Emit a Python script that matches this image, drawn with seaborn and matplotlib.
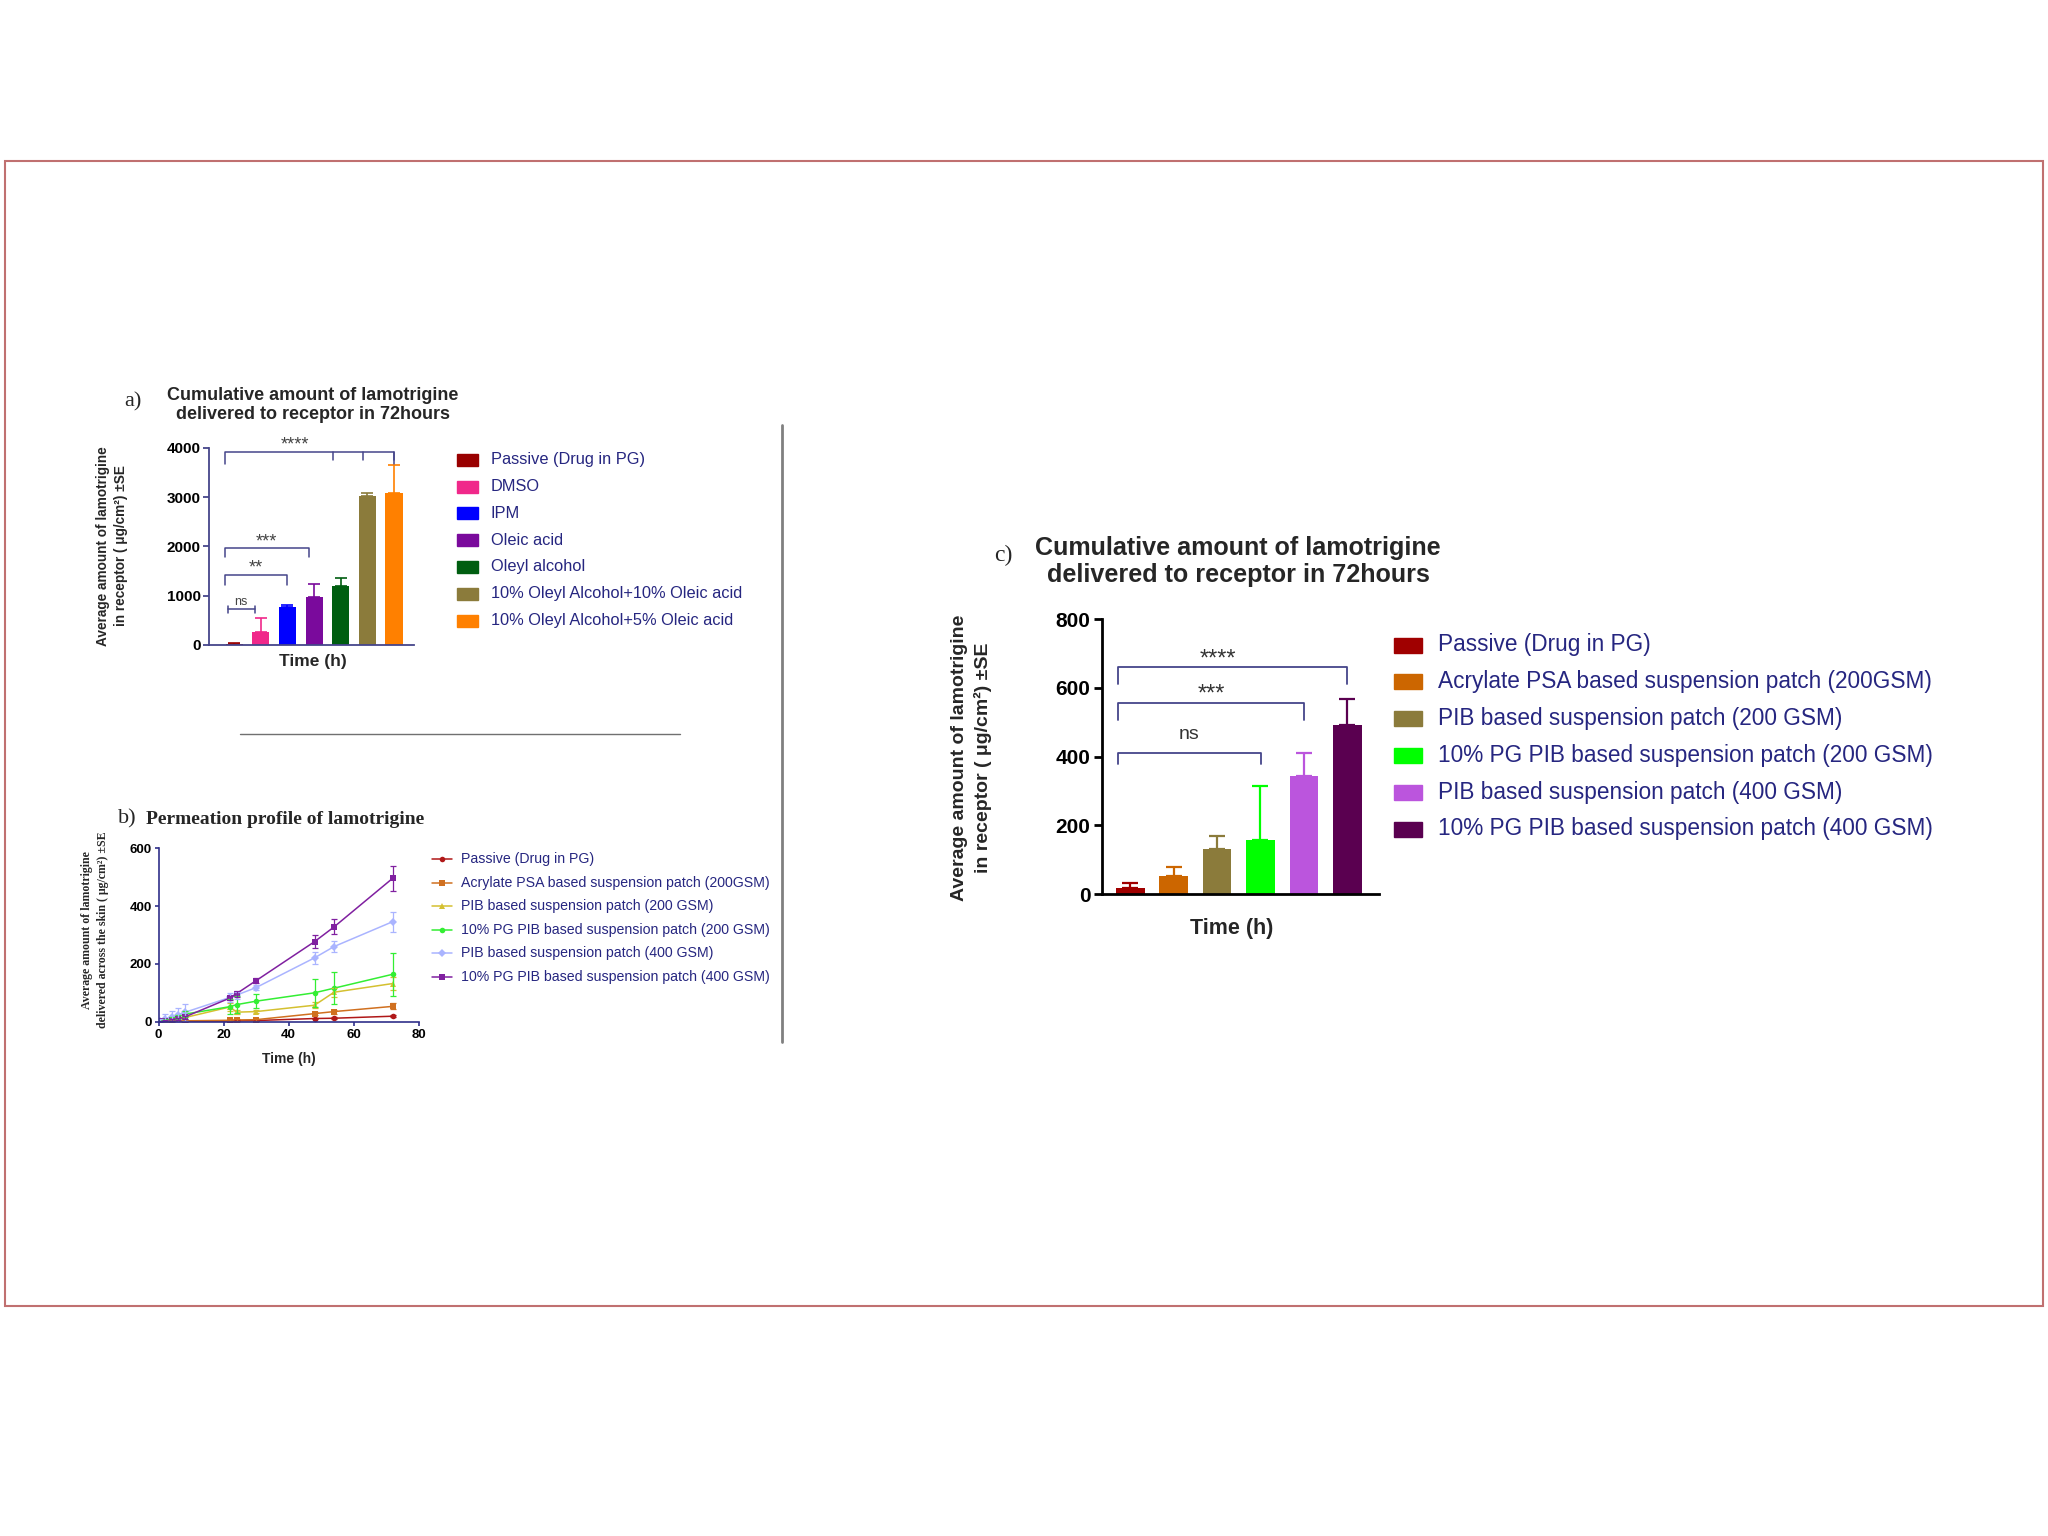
import matplotlib.pyplot as plt
import matplotlib.patches as mpatches
from matplotlib.lines import Line2D
import numpy as np
import pandas as pd
import seaborn as sns

# ---- panel a: cumulative amount, enhancers ----
a_groups = ['Passive (Drug in PG)', 'DMSO', 'IPM', 'Oleic acid', 'Oleyl alcohol',
            '10% Oleyl Alcohol+10% Oleic acid', '10% Oleyl Alcohol+5% Oleic acid']
a_mean = [20, 257, 777, 980, 1196, 3020, 3074]
a_err = [12, 283, 27, 250, 155, 54, 568]
a_colors = ['#990000', '#f0288a', '#0000ff', '#7a0a9c', '#005e10', '#8b7b3b', '#ff8000']
a_sig_text = ['ns', '**', '***', '****']
a_sig_left = [-0.21, -0.34, -0.34, -0.34]
a_sig_right = [0.79, 2.0, 2.8, 6.0]
a_sig_y = [725, 1420, 1960, 3920]
a_sig_drop = [1217 - 1420, 1217 - 1420, 1779 - 1960, 3670 - 3920]
a_sig_textx = [0.25, 0.83, 1.23, 2.3]
a_sig_inner = [3.71, 4.83]

# ---- panel b: permeation profile ----
b_series = ['Passive (Drug in PG)', 'Acrylate PSA based suspension patch (200GSM)',
            'PIB based suspension patch (200 GSM)', '10% PG PIB based suspension patch (200 GSM)',
            'PIB based suspension patch (400 GSM)', '10% PG PIB based suspension patch (400 GSM)']
b_time = [0.5, 2, 4, 6, 8, 22, 24, 30, 48, 54, 72]
b_passive = [0, 0.5, 1, 1, 1.5, 2, 3, 4, 11, 12, 19]
b_acrylate = [0.5, 1, 2, 2, 3, 5, 6, 7, 28, 35, 53]
b_pib200 = [1, 4, 7, 10, 14, 51, 33, 35, 57, 102, 132]
b_pg_pib200 = [2, 6, 10, 16, 26, 52, 59, 71, 100, 116, 164]
b_pib400 = [3, 10, 16, 24, 32, 84, 92, 118, 221, 260, 346]
b_pg_pib400 = [1, 3, 6, 10, 16, 82, 97, 142, 277, 328, 496]
b_err_passive = [0.5, 0.5, 1, 1, 1, 2, 2, 2, 3, 3, 4]
b_err_acrylate = [1, 1, 1, 1, 2, 3, 3, 3, 6, 7, 10]
b_err_pib200 = [2, 3, 4, 4, 5, 15, 8, 6, 10, 15, 22]
b_err_pg_pib200 = [3, 5, 6, 8, 10, 25, 30, 25, 48, 55, 75]
b_err_pib400 = [8, 15, 20, 25, 30, 15, 12, 10, 20, 18, 35]
b_err_pg_pib400 = [1, 2, 3, 4, 5, 8, 10, 8, 22, 26, 44]
b_colors = ['#b01818', '#d07020', '#d4c030', '#33ee33', '#aab4ff', '#8020a0']
b_markers = ['o', 's', '^', 'o', 'D', 's']

# ---- panel c: cumulative amount, patches ----
c_groups = b_series
c_mean = [17, 53, 130, 157, 344, 493]
c_err = [14, 26, 39, 157, 67, 74]
c_colors = ['#a00000', '#cc6600', '#8b7b3b', '#00ff00', '#bb55dd', '#5a0050']
c_sig_text = ['ns', '***', '****']
c_sig_left = [-0.29, -0.29, -0.29]
c_sig_right = [3.01, 4.0, 5.0]
c_sig_y = [410, 555, 660]
c_sig_drop = [-30, -48, -47]
c_sig_textx = [1.36, 1.87, 2.02]
c_sig_texty = [440, 548, 652]

navy = '#262680'
slate = '#45458a'

sns.set_theme(style='white')
plt.rcParams['font.family'] = ['Liberation Sans', 'DejaVu Sans']
serif = ['Liberation Serif', 'DejaVu Serif']

fig = plt.figure(figsize=(20.48, 15.36), dpi=100)


def fx(px):
    return px / 2048


def fy(py):
    return 1 - py / 1536


def style_axis(ax, color, lw, size):
    sns.despine(ax=ax)
    for s in ['left', 'bottom']:
        ax.spines[s].set_color(color)
        ax.spines[s].set_linewidth(lw)
    ax.tick_params(axis='both', colors=color, labelcolor='black', width=lw,
                   length=4, labelsize=size, pad=2)
    ax.grid(False)


def bracket(ax, left, right, y, drop, color, lw):
    ax.plot([left, left, right, right], [y + drop, y, y, y + drop], color=color, lw=lw,
            clip_on=False)


# ---------------- panel a ----------------
ax_a = fig.add_axes([fx(209), fy(645), fx(414 - 209), (645 - 447.7) / 1536])
sns.barplot(x=a_groups, y=a_mean, hue=a_groups, palette=a_colors, saturation=1,
            width=0.64, legend=False, errorbar=None, linewidth=0, ax=ax_a)
for i in range(len(a_groups)):
    ax_a.errorbar(i, a_mean[i], yerr=[[0], [a_err[i]]], fmt='none', ecolor=a_colors[i],
                  elinewidth=1.2, capsize=4, capthick=1.2)
ax_a.set_xlim(-0.94, 6.75)
ax_a.set_ylim(0, 4000)
ax_a.set_xticks([])
ax_a.set_yticks([0, 1000, 2000, 3000, 4000], ['0', '1000', '2000', '3000', '4000'],
                fontweight='bold')
style_axis(ax_a, slate, 1.3, 11)
ax_a.tick_params(axis='x', bottom=False)
ax_a.tick_params(axis='y', left=True)
for i, t in enumerate(a_sig_text):
    if t == 'ns':
        ax_a.plot([a_sig_left[i], a_sig_right[i]], [a_sig_y[i]] * 2, color=slate, lw=1.1)
        for xe in (a_sig_left[i], a_sig_right[i]):
            ax_a.plot([xe, xe], [a_sig_y[i] - 70, a_sig_y[i] + 70], color=slate, lw=1.1)
        ax_a.text(a_sig_textx[i], a_sig_y[i] + 30, t, ha='center', va='bottom',
                  fontsize=9, color='#444444')
    else:
        bracket(ax_a, a_sig_left[i], a_sig_right[i], a_sig_y[i], a_sig_drop[i], slate, 1.1)
        ax_a.text(a_sig_textx[i], a_sig_y[i] - 40, t, ha='center', va='bottom',
                  fontsize=13, color='#444444')
for xe in a_sig_inner:
    ax_a.plot([xe, xe], [a_sig_y[3], 3750], color=slate, lw=1.1, clip_on=False)
ax_a.plot([6.0, 6.0], [a_sig_y[3], 3750], color=slate, lw=1.1, clip_on=False)

fig.text(fx(133), fy(402), 'a)', fontsize=16, family=serif, ha='center', va='center')
fig.text(fx(313), fy(405), 'Cumulative amount of lamotrigine\ndelivered to receptor in 72hours',
         fontsize=13, fontweight='bold', ha='center', va='center', linespacing=1.2)
fig.text(fx(112), fy(546), 'Average amount of lamotrigine\nin receptor ( μg/cm²) ±SE',
         rotation=90, fontsize=9.8, fontweight='bold', ha='center', va='center',
         linespacing=1.4)
fig.text(fx(313), fy(662), 'Time (h)', fontsize=12.5, fontweight='bold', ha='center',
         va='center')
for i, lab in enumerate(a_groups):
    yy = 459.7 + i * 26.8
    fig.add_artist(mpatches.Rectangle((fx(457), fy(yy + 6)), fx(21), 12 / 1536,
                                      color=a_colors[i], transform=fig.transFigure))
    fig.text(fx(491), fy(yy), lab, fontsize=11.8, color=navy, ha='left', va='center')

# ---------------- panel b ----------------
ax_b = fig.add_axes([fx(158.5), fy(1021.7), fx(418.6 - 158.5), (1021.7 - 848.3) / 1536])
b_values = [b_passive, b_acrylate, b_pib200, b_pg_pib200, b_pib400, b_pg_pib400]
b_errors = [b_err_passive, b_err_acrylate, b_err_pib200, b_err_pg_pib200, b_err_pib400,
            b_err_pg_pib400]
b_df = pd.DataFrame({
    'time': np.tile(b_time, len(b_series)),
    'value': np.concatenate(b_values),
    'series': np.repeat(b_series, len(b_time)),
})
sns.lineplot(data=b_df, x='time', y='value', hue='series', style='series',
             hue_order=b_series, style_order=b_series, palette=b_colors,
             markers=b_markers, dashes=False, markersize=4, markeredgewidth=0,
             linewidth=1.1, legend=False, ax=ax_b)
for vals, errs, col in zip(b_values, b_errors, b_colors):
    ax_b.errorbar(b_time, vals, yerr=errs, fmt='none', ecolor=col, elinewidth=0.9,
                  capsize=2, capthick=0.9)
ax_b.set_xlim(0, 80)
ax_b.set_ylim(0, 600)
ax_b.set_xticks([0, 20, 40, 60, 80], ['0', '20', '40', '60', '80'], fontweight='bold')
ax_b.set_yticks([0, 200, 400, 600], ['0', '200', '400', '600'], fontweight='bold')
ax_b.set_xlabel('')
ax_b.set_ylabel('')
style_axis(ax_b, '#30308a', 1.2, 9.5)
ax_b.tick_params(axis='both', bottom=True, left=True, length=3)

fig.text(fx(127), fy(819), 'b)', fontsize=16, family=serif, ha='center', va='center')
fig.text(fx(146), fy(819), 'Permeation profile of lamotrigine', fontsize=14,
         family=serif, fontweight='bold', ha='left', va='center')
fig.text(fx(95), fy(930),
         'Average amount of lamotrigine\ndelivered across the skin ( μg/cm²) ±SE',
         rotation=90, fontsize=8.6, family=serif, fontweight='bold', ha='center',
         va='center', linespacing=1.45)
fig.text(fx(288.6), fy(1059), 'Time (h)', fontsize=10, fontweight='bold', ha='center',
         va='center')
for i, lab in enumerate(b_series):
    yy = 859.4 + i * 23.5
    fig.add_artist(Line2D([fx(432), fx(442), fx(452)], [fy(yy)] * 3, color=b_colors[i],
                          lw=1.1, marker=b_markers[i], markersize=4, markevery=[1],
                          markeredgewidth=0, transform=fig.transFigure))
    fig.text(fx(461), fy(yy), lab, fontsize=10.2, color=navy, ha='left', va='center')

# ---------------- panel c ----------------
ax_c = fig.add_axes([fx(1101.6), fy(894), fx(1379 - 1101.6), (894 - 619.3) / 1536])
sns.barplot(x=c_groups, y=c_mean, hue=c_groups, palette=c_colors, saturation=1,
            width=0.66, legend=False, errorbar=None, linewidth=0, ax=ax_c)
for i in range(len(c_groups)):
    ax_c.errorbar(i, c_mean[i], yerr=[[0], [c_err[i]]], fmt='none', ecolor=c_colors[i],
                  elinewidth=1.6, capsize=6, capthick=1.6)
ax_c.set_xlim(-0.66, 5.73)
ax_c.set_ylim(0, 800)
ax_c.set_xticks([])
ax_c.set_yticks([0, 200, 400, 600, 800], ['0', '200', '400', '600', '800'],
                fontweight='bold')
style_axis(ax_c, 'black', 2.0, 15)
ax_c.tick_params(axis='x', bottom=False)
ax_c.tick_params(axis='y', left=True, length=6)
for i, t in enumerate(c_sig_text):
    bracket(ax_c, c_sig_left[i], c_sig_right[i], c_sig_y[i], c_sig_drop[i], slate, 1.3)
    ax_c.text(c_sig_textx[i], c_sig_texty[i], t, ha='center', va='bottom',
              fontsize=14 if t == 'ns' else 17, color='#333333')

fig.text(fx(1003), fy(555), 'c)', fontsize=17, family=serif, ha='center', va='center')
fig.text(fx(1238), fy(561.6), 'Cumulative amount of lamotrigine\ndelivered to receptor in 72hours',
         fontsize=18.1, fontweight='bold', ha='center', va='center', linespacing=1.16)
fig.text(fx(971.5), fy(757.5), 'Average amount of lamotrigine\nin receptor ( μg/cm²) ±SE',
         rotation=90, fontsize=14, fontweight='bold', ha='center', va='center',
         linespacing=1.45)
fig.text(fx(1231.6), fy(928.6), 'Time (h)', fontsize=15.5, fontweight='bold', ha='center',
         va='center')
for i, lab in enumerate(c_groups):
    yy = 645 + i * 36.8
    fig.add_artist(mpatches.Rectangle((fx(1393.5), fy(yy + 7.5)), fx(28.5), 15 / 1536,
                                      color=c_colors[i], transform=fig.transFigure))
    fig.text(fx(1438), fy(yy), lab, fontsize=16.3, color=navy, ha='left', va='center')

# ---------------- frame and dividers ----------------
fig.add_artist(mpatches.Rectangle((fx(5.2), fy(1306)), fx(2042.7 - 5.2), (1306 - 160.6) / 1536,
                                  fill=False, edgecolor='#c07070', lw=1.5,
                                  transform=fig.transFigure))
fig.add_artist(Line2D([fx(782.3), fx(782.3)], [fy(424.5), fy(1042)], color='#808080', lw=2,
                      transform=fig.transFigure))
fig.add_artist(Line2D([fx(240.3), fx(680.4)], [fy(734), fy(734)], color='#707070', lw=1,
                      transform=fig.transFigure))

fig.savefig('out.png', dpi=100, facecolor='white')
